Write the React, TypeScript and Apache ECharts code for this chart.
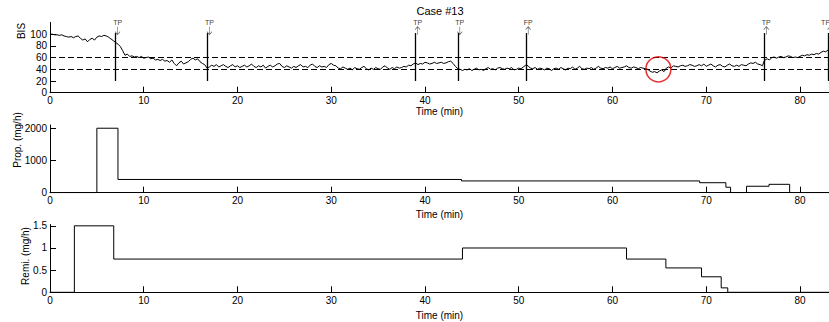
import React, { useEffect, useRef } from "react";
import * as echarts from "echarts";

// BIS trace: [time (min), BIS]
const bisData: [number, number][] = [
  [0, 100], [0.25, 100], [0.5, 99], [0.75, 99], [1, 98], [1.25, 99], [1.5, 97], [1.75, 96],
  [2, 95], [2.25, 96], [2.5, 94], [2.75, 96], [3, 97], [3.25, 93], [3.5, 90], [3.75, 92],
  [4, 87], [4.25, 91], [4.5, 93], [4.75, 90], [5, 95], [5.25, 97], [5.5, 96], [5.75, 98],
  [6, 97], [6.25, 95], [6.5, 92], [6.75, 89], [7, 86], [7.25, 83], [7.5, 79], [7.75, 72],
  [8, 64], [8.25, 66], [8.5, 62], [8.75, 63], [9, 61], [9.25, 62], [9.5, 60], [9.75, 62],
  [10, 59], [10.25, 60], [10.5, 61], [10.75, 58], [11, 59], [11.25, 56], [11.5, 57], [11.75, 55],
  [12, 57], [12.25, 54], [12.5, 55], [12.75, 52], [13, 56], [13.25, 50], [13.5, 46], [13.75, 51],
  [14, 54], [14.25, 49], [14.5, 51], [14.75, 53], [15, 57], [15.25, 59], [15.5, 56], [15.75, 58],
  [16, 53], [16.25, 50], [16.5, 48], [16.75, 42], [17, 44], [17.25, 47], [17.5, 45], [17.75, 48],
  [18, 44], [18.25, 46], [18.5, 48], [18.75, 45], [19, 43], [19.25, 46], [19.5, 48], [19.75, 44],
  [20, 46], [20.25, 43], [20.5, 45], [20.75, 47], [21, 44], [21.25, 46], [21.5, 49], [21.75, 45],
  [22, 43], [22.25, 46], [22.5, 44], [22.75, 47], [23, 42], [23.25, 45], [23.5, 47], [23.75, 44],
  [24, 46], [24.25, 49], [24.5, 50], [24.75, 45], [25, 43], [25.25, 46], [25.5, 44], [25.75, 42],
  [26, 45], [26.25, 43], [26.5, 46], [26.75, 48], [27, 44], [27.25, 45], [27.5, 43], [27.75, 47],
  [28, 49], [28.25, 45], [28.5, 43], [28.75, 46], [29, 44], [29.25, 45], [29.5, 43], [29.75, 48],
  [30, 50], [30.25, 47], [30.5, 46], [30.75, 42], [31, 41], [31.25, 44], [31.5, 42], [31.75, 40],
  [32, 42], [32.25, 39], [32.5, 43], [32.75, 41], [33, 40], [33.25, 43], [33.5, 45], [33.75, 41],
  [34, 39], [34.25, 42], [34.5, 40], [34.75, 43], [35, 41], [35.25, 40], [35.5, 44], [35.75, 46],
  [36, 42], [36.25, 40], [36.5, 43], [36.75, 41], [37, 44], [37.25, 42], [37.5, 43], [37.75, 45],
  [38, 44], [38.25, 47], [38.5, 46], [38.75, 49], [39, 51], [39.25, 48], [39.5, 50], [39.75, 49],
  [40, 52], [40.25, 51], [40.5, 49], [40.75, 50], [41, 52], [41.25, 50], [41.5, 51], [41.75, 52],
  [42, 50], [42.25, 51], [42.5, 53], [42.75, 54], [43, 50], [43.25, 45], [43.5, 41], [43.75, 40],
  [44, 38], [44.25, 40], [44.5, 39], [44.75, 41], [45, 38], [45.25, 40], [45.5, 42], [45.75, 39],
  [46, 40], [46.25, 38], [46.5, 41], [46.75, 43], [47, 40], [47.25, 41], [47.5, 39], [47.75, 42],
  [48, 43], [48.25, 41], [48.5, 40], [48.75, 42], [49, 41], [49.25, 43], [49.5, 39], [49.75, 40],
  [50, 42], [50.25, 41], [50.5, 44], [50.75, 47], [51, 46], [51.25, 42], [51.5, 41], [51.75, 43],
  [52, 40], [52.25, 42], [52.5, 41], [52.75, 39], [53, 42], [53.25, 41], [53.5, 38], [53.75, 41],
  [54, 42], [54.25, 40], [54.5, 43], [54.75, 41], [55, 39], [55.25, 42], [55.5, 41], [55.75, 44],
  [56, 40], [56.25, 42], [56.5, 45], [56.75, 41], [57, 40], [57.25, 42], [57.5, 41], [57.75, 43],
  [58, 40], [58.25, 42], [58.5, 45], [58.75, 42], [59, 41], [59.25, 43], [59.5, 42], [59.75, 44],
  [60, 41], [60.25, 43], [60.5, 45], [60.75, 42], [61, 43], [61.25, 44], [61.5, 46], [61.75, 43],
  [62, 42], [62.25, 44], [62.5, 43], [62.75, 41], [63, 43], [63.25, 42], [63.5, 41], [63.75, 40],
  [64, 37], [64.25, 35], [64.5, 36], [64.75, 34], [65, 37], [65.25, 39], [65.5, 36], [65.75, 42],
  [66, 44], [66.25, 42], [66.5, 46], [66.75, 45], [67, 44], [67.25, 46], [67.5, 47], [67.75, 45],
  [68, 46], [68.25, 48], [68.5, 47], [68.75, 45], [69, 46], [69.25, 48], [69.5, 46], [69.75, 49],
  [70, 45], [70.25, 47], [70.5, 49], [70.75, 46], [71, 44], [71.25, 47], [71.5, 48], [71.75, 45],
  [72, 44], [72.25, 47], [72.5, 49], [72.75, 46], [73, 45], [73.25, 47], [73.5, 45], [73.75, 48],
  [74, 47], [74.25, 46], [74.5, 49], [74.75, 51], [75, 50], [75.25, 52], [75.5, 49], [75.75, 48],
  [76, 46], [76.2, 55], [76.5, 58], [76.75, 56], [77, 60], [77.25, 61], [77.5, 59], [77.75, 61],
  [78, 62], [78.25, 60], [78.5, 61], [78.75, 63], [79, 62], [79.25, 60], [79.5, 61], [79.75, 60],
  [80, 62], [80.25, 64], [80.5, 63], [80.75, 65], [81, 64], [81.25, 66], [81.5, 65], [81.75, 67],
  [82, 66], [82.25, 69], [82.5, 71], [82.75, 70], [83, 73], [83.1, 74],
];

// Event markers on BIS panel
const markerTimes = [7, 16.8, 39, 43.5, 50.8, 76.2, 83];
const markerLabels = ["TP", "TP", "TP", "TP", "FP", "TP", "TP"];
const markerDirections = ["down", "down", "up", "down", "up", "up", "up"];
const markerLineRange = [20, 102];
const markerArrowLevel = 106;
const bisThresholds = [40, 60];
const circledPoint: [number, number][] = [[64.9, 40]];

// Propofol infusion steps: [time, mg/h] (value holds until next point)
const propData: [number, number][] = [
  [0, 0], [5.0, 2000], [7.25, 410], [43.9, 365], [69.3, 310], [72.1, 170], [72.6, 0],
  [74.3, 200], [76.7, 260], [78.9, 0], [83.1, 0],
];

// Remifentanil infusion steps: [time, mg/h]
const remiData: [number, number][] = [
  [0, 0], [2.6, 1.5], [6.8, 0.75], [44.0, 1.0], [61.5, 0.75], [65.7, 0.55], [69.5, 0.35],
  [71.6, 0.1], [72.3, 0], [83.1, 0],
];

const xTicks = [0, 10, 20, 30, 40, 50, 60, 70, 80];
const bisTicks = [0, 20, 40, 60, 80, 100];
const propTicks = [0, 1000, 2000];
const remiTicks = [0, 0.5, 1, 1.5];

const FONT = "Liberation Sans, Arial, Helvetica, sans-serif";
const ARROW_DOWN = "path://M5,0 L5,12 M1.5,7.5 L5,12 L8.5,7.5";
const ARROW_UP = "path://M5,12 L5,0 M1.5,4.5 L5,0 L8.5,4.5";

export default function App() {
  const ref = useRef<HTMLDivElement>(null);
  useEffect(() => {
    if (!ref.current) return;
    const chart = echarts.init(ref.current, undefined, { renderer: "svg" });
    const grids = [
      { left: 50, right: 0, top: 22.5, height: 70.2 },
      { left: 50, right: 0, top: 125, height: 67.7 },
      { left: 50, right: 0, top: 224.5, height: 67.8 },
    ];
    const nameGaps = [11, 17, 18];
    const xAxis = grids.map((_, i) => ({
      type: "value",
      gridIndex: i,
      min: 0,
      max: 83.1,
      interval: 10,
      name: "Time (min)",
      nameLocation: "middle",
      nameGap: nameGaps[i],
      nameTextStyle: { fontFamily: FONT, fontSize: 10, color: "#000" },
      axisLine: { show: true, lineStyle: { color: "#000", width: 1 } },
      axisTick: { show: true, inside: true, length: 6, customValues: xTicks, lineStyle: { color: "#000" } },
      axisLabel: { customValues: xTicks, fontFamily: FONT, fontSize: 10, color: "#000", margin: 3 },
      splitLine: { show: false },
    }));
    const yDefs = [
      { max: 120, interval: 20, ticks: bisTicks },
      { max: 2100, interval: 1000, ticks: propTicks },
      { max: 1.53, interval: 0.5, ticks: remiTicks },
    ];
    const yAxis = yDefs.map((d, i) => ({
      type: "value",
      gridIndex: i,
      min: 0,
      max: d.max,
      interval: d.interval,
      axisLine: { show: true, lineStyle: { color: "#000", width: 1 } },
      axisTick: { show: true, inside: true, length: 6, customValues: d.ticks, lineStyle: { color: "#000" } },
      axisLabel: {
        customValues: d.ticks,
        formatter: (v: number) => String(v),
        fontFamily: FONT,
        fontSize: 10,
        color: "#000",
        margin: 3,
      },
      splitLine: { show: false },
    }));

    const markerLines = markerTimes.map((t) => [
      { coord: [t, markerLineRange[0]], symbol: "none" },
      { coord: [t, markerLineRange[1]], symbol: "none" },
    ]);

    const arrowData = markerTimes.map((t, i) => ({
      value: [t, markerArrowLevel],
      name: markerLabels[i],
      symbol: markerDirections[i] === "down" ? ARROW_DOWN : ARROW_UP,
      label: {
        show: true,
        position: "top",
        distance: 0,
        formatter: "{b}",
        fontFamily: FONT,
        fontSize: 7,
        color: "#000",
        align: i === markerTimes.length - 1 ? "right" : "center",
      },
    }));

    chart.setOption({
      animation: false,
      backgroundColor: "#fff",
      title: {
        text: "Case #13",
        left: 435,
        top: 0,
        textAlign: "center",
        textStyle: { fontFamily: FONT, fontSize: 11, fontWeight: "normal", color: "#000" },
      },
      grid: grids,
      xAxis,
      yAxis,
      graphic: [
        { type: "text", x: 21, y: 31, rotation: Math.PI / 2, style: { text: "BIS", fontFamily: FONT, fontSize: 10, fill: "#000", align: "center", verticalAlign: "middle" } },
        { type: "text", x: 17, y: 140, rotation: Math.PI / 2, style: { text: "Prop. (mg/h)", fontFamily: FONT, fontSize: 10, fill: "#000", align: "center", verticalAlign: "middle" } },
        { type: "text", x: 25, y: 256, rotation: Math.PI / 2, style: { text: "Remi. (mg/h)", fontFamily: FONT, fontSize: 10, fill: "#000", align: "center", verticalAlign: "middle" } },
      ],
      series: [
        {
          type: "line",
          xAxisIndex: 0,
          yAxisIndex: 0,
          data: bisData,
          symbol: "none",
          lineStyle: { color: "#000", width: 1 },
          markLine: {
            silent: true,
            symbol: "none",
            animation: false,
            label: { show: false },
            data: [
              ...bisThresholds.map((v) => ({ yAxis: v, lineStyle: { color: "#000", width: 1, type: [6, 3] } })),
              ...markerLines.map((pair) =>
                pair.map((p) => ({ ...p, lineStyle: { color: "#000", width: 1.3, type: "solid" } }))
              ),
            ],
          },
        },
        {
          type: "scatter",
          xAxisIndex: 0,
          yAxisIndex: 0,
          data: arrowData,
          symbolSize: [5, 8],
          symbolOffset: [2, 0],
          itemStyle: { color: "rgba(0,0,0,0)", borderColor: "#444", borderWidth: 0.8 },
          z: 4,
        },
        {
          type: "scatter",
          xAxisIndex: 0,
          yAxisIndex: 0,
          data: circledPoint,
          symbol: "circle",
          symbolSize: 25,
          itemStyle: { color: "rgba(0,0,0,0)", borderColor: "#e00000", borderWidth: 1.5 },
          z: 5,
        },
        {
          type: "line",
          xAxisIndex: 1,
          yAxisIndex: 1,
          data: propData,
          step: "end",
          symbol: "none",
          lineStyle: { color: "#000", width: 1 },
        },
        {
          type: "line",
          xAxisIndex: 2,
          yAxisIndex: 2,
          data: remiData,
          step: "end",
          symbol: "none",
          lineStyle: { color: "#000", width: 1 },
        },
      ],
    });
    return () => chart.dispose();
  }, []);
  return (
    <div
      ref={ref}
      style={{ position: "fixed", left: 0, top: 0, width: 829, height: 322, background: "#fff" }}
    />
  );
}
